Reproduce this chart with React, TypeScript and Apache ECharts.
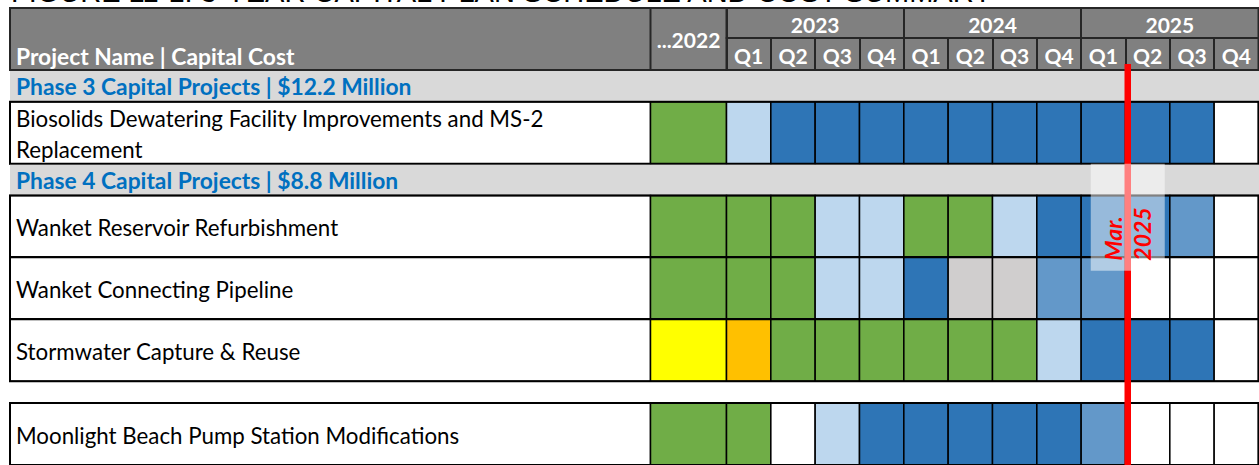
import { useEffect, useRef } from 'react';
import * as echarts from 'echarts';

// ---------------- data ----------------
const TITLE = 'FIGURE 11-1: 3-YEAR CAPITAL PLAN SCHEDULE AND COST SUMMARY';
const NAME_HEADER = 'Project Name | Capital Cost';
const PRIOR_LABEL = '...2022';
const YEARS = ['2023', '2024', '2025'];
const QUARTERS = ['Q1', 'Q2', 'Q3', 'Q4'];
const PERIODS = YEARS.flatMap((y) => QUARTERS.map((q) => `${y} ${q}`));

const PHASE_LABELS = [
  'Phase 3 Capital Projects | $12.2 Million',
  'Phase 4 Capital Projects | $8.8 Million',
];
const PROJECT_NAMES = [
  'Biosolids Dewatering Facility Improvements and MS-2 Replacement',
  'Wanket Reservoir Refurbishment',
  'Wanket Connecting Pipeline',
  'Stormwater Capture & Reuse',
  'Moonlight Beach Pump Station Modifications',
];
// status per column: first = "...2022", then 2023 Q1 ... 2025 Q4
// G green, L light blue, D dark blue, M medium blue, H grey, Y yellow, O orange, '' empty
const BIOSOLIDS = ['G', 'L', 'D', 'D', 'D', 'D', 'D', 'D', 'D', 'D', 'D', 'D', ''];
const RESERVOIR = ['G', 'G', 'G', 'L', 'L', 'G', 'G', 'L', 'D', 'D', 'D', 'M', ''];
const PIPELINE = ['G', 'G', 'G', 'L', 'L', 'D', 'H', 'H', 'M', 'M', '', '', ''];
const STORMWATER = ['Y', 'O', 'G', 'G', 'G', 'G', 'G', 'G', 'L', 'D', 'D', 'D', ''];
const MOONLIGHT = ['G', 'G', '', 'L', 'D', 'D', 'D', 'D', 'D', 'M', '', '', ''];

const MARKER_LABEL = 'Mar.\n2025';
const MARKER_PERIOD = '2025 Q1';
const MARKER_FRACTION = 1; // end of March

// ---------------- structure / style ----------------
type Row = { kind: 'phase' | 'project' | 'gap'; label?: string; cells?: string[] };
const ROWS: Row[] = [
  { kind: 'phase', label: PHASE_LABELS[0] },
  { kind: 'project', label: PROJECT_NAMES[0], cells: BIOSOLIDS },
  { kind: 'phase', label: PHASE_LABELS[1] },
  { kind: 'project', label: PROJECT_NAMES[1], cells: RESERVOIR },
  { kind: 'project', label: PROJECT_NAMES[2], cells: PIPELINE },
  { kind: 'project', label: PROJECT_NAMES[3], cells: STORMWATER },
  { kind: 'gap' },
  { kind: 'project', label: PROJECT_NAMES[4], cells: MOONLIGHT },
];

const ROW_HEIGHT: Record<string, number> = { phase: 32, project: 62.5, gap: 22 };
const ROW_STARTS: number[] = [];
let acc = 0;
ROWS.forEach((r) => {
  ROW_STARTS.push(acc);
  acc += ROW_HEIGHT[r.kind];
});
const TOTAL_HEIGHT = acc;

const STATUS_COLOR: Record<string, string> = {
  G: '#70AD47',
  L: '#BDD7EE',
  D: '#2E75B6',
  M: '#6398C9',
  H: '#D0CECE',
  Y: '#FFFF00',
  O: '#FFC000',
  '': '#FFFFFF',
};

const FONT = 'Lato';
const TEXT_SIZE = 22.3;
const BOLD_SIZE = 22.8;
const HEAD_SIZE = 21;
const TABLE_LEFT = 10;
const PRE_WIDTH = 76;
const HEADER_TOP = 8;
const GRID_TOP = 70;
const GRID_LEFT = 726.5;
const HEADER_FILL = '#808080';
const HEADER_LINE = '#262626';
const PHASE_FILL = '#D9D9D9';
const PHASE_TEXT = '#0070C0';
const MARKER_COLOR = '#FF0000';

function gridInfo(api: any) {
  const band = api.size([1, 0])[0];
  const left = api.coord([0, 0])[0] - band / 2;
  const right = left + band * PERIODS.length;
  const top = api.coord([0, 0])[1];
  const bottom = api.coord([0, TOTAL_HEIGHT])[1];
  return { band, left, right, top, bottom };
}

function renderHeader(_params: any, api: any) {
  const g = gridInfo(api);
  const preLeft = g.left - PRE_WIDTH;
  const lineStyle = { stroke: HEADER_LINE, lineWidth: 2 };
  return {
    type: 'group',
    children: [
      {
        type: 'rect',
        shape: { x: TABLE_LEFT, y: HEADER_TOP, width: g.right - TABLE_LEFT, height: g.top - HEADER_TOP },
        style: { fill: HEADER_FILL, ...lineStyle },
      },
      { type: 'line', shape: { x1: preLeft, y1: HEADER_TOP, x2: preLeft, y2: g.top }, style: lineStyle },
      { type: 'line', shape: { x1: g.left, y1: HEADER_TOP, x2: g.left, y2: g.top }, style: lineStyle },
      {
        type: 'text',
        x: TABLE_LEFT + 6,
        y: g.top - 14.5,
        style: {
          text: NAME_HEADER,
          fill: '#FFFFFF',
          font: `bold ${BOLD_SIZE}px ${FONT}`,
          align: 'left',
          verticalAlign: 'middle',
        },
      },
      {
        type: 'text',
        x: preLeft + PRE_WIDTH / 2,
        y: (HEADER_TOP + g.top) / 2,
        style: {
          text: PRIOR_LABEL,
          fill: '#FFFFFF',
          font: `bold ${HEAD_SIZE}px ${FONT}`,
          align: 'center',
          verticalAlign: 'middle',
        },
      },
    ],
  };
}

function renderRow(params: any, api: any) {
  const i = params.dataIndex;
  const row = ROWS[i];
  const g = gridInfo(api);
  const y0 = api.coord([0, ROW_STARTS[i]])[1];
  const y1 = api.coord([0, ROW_STARTS[i] + ROW_HEIGHT[row.kind]])[1];
  const h = y1 - y0;
  const children: any[] = [];
  if (row.kind === 'phase') {
    children.push({
      type: 'rect',
      shape: { x: TABLE_LEFT, y: y0 + 1, width: g.right - TABLE_LEFT + 2, height: h - 2 },
      style: { fill: PHASE_FILL },
    });
    children.push({
      type: 'text',
      x: TABLE_LEFT + 6,
      y: (y0 + y1) / 2,
      style: {
        text: row.label,
        fill: PHASE_TEXT,
        font: `bold ${BOLD_SIZE}px ${FONT}`,
        align: 'left',
        verticalAlign: 'middle',
      },
    });
  } else if (row.kind === 'project') {
    const preLeft = g.left - PRE_WIDTH;
    const cellStyle = { stroke: '#000000', lineWidth: 1.5 };
    children.push({
      type: 'rect',
      shape: { x: TABLE_LEFT, y: y0, width: preLeft - TABLE_LEFT, height: h },
      style: { fill: '#FFFFFF', ...cellStyle },
    });
    children.push({
      type: 'text',
      x: TABLE_LEFT + 6,
      y: (y0 + y1) / 2 + 1.5,
      style: {
        text: row.label,
        fill: '#000000',
        font: `${TEXT_SIZE}px ${FONT}`,
        align: 'left',
        verticalAlign: 'middle',
        width: 580,
        overflow: 'break',
        lineHeight: 31,
      },
    });
    (row.cells || []).forEach((status, k) => {
      let x0: number;
      let w: number;
      if (k === 0) {
        x0 = preLeft;
        w = PRE_WIDTH;
      } else {
        x0 = api.coord([k - 1, 0])[0] - g.band / 2;
        w = g.band;
      }
      children.push({
        type: 'rect',
        shape: { x: x0, y: y0, width: w, height: h },
        style: { fill: STATUS_COLOR[status], ...cellStyle },
      });
    });
    children.push({
      type: 'rect',
      shape: { x: TABLE_LEFT, y: y0, width: g.right - TABLE_LEFT, height: h },
      style: { fill: 'none', stroke: '#000000', lineWidth: 2 },
    });
  }
  return { type: 'group', children };
}

function renderMarker(_params: any, api: any) {
  const g = gridInfo(api);
  const qi = PERIODS.indexOf(MARKER_PERIOD);
  const x = api.coord([qi, 0])[0] - g.band / 2 + MARKER_FRACTION * g.band;
  const lineW = 6.5;
  const cx = x - 1 + lineW / 2;
  const phase4Top = api.coord([0, ROW_STARTS[2]])[1];
  const boxH = 107;
  return {
    type: 'group',
    children: [
      {
        type: 'rect',
        shape: { x: x - 1, y: g.top - 6, width: lineW, height: g.bottom - g.top + 6 },
        style: { fill: MARKER_COLOR },
      },
      {
        type: 'rect',
        shape: { x: cx - 37, y: phase4Top, width: 74, height: boxH },
        style: { fill: 'rgba(255,255,255,0.5)' },
      },
      {
        type: 'text',
        x: cx,
        y: phase4Top + boxH - 10,
        rotation: Math.PI / 2,
        style: {
          text: MARKER_LABEL,
          fill: MARKER_COLOR,
          font: `italic bold 23px ${FONT}`,
          lineHeight: 29,
          align: 'left',
          verticalAlign: 'middle',
        },
      },
    ],
  };
}

function buildOption(): any {
  const labelBase = {
    color: '#FFFFFF',
    fontWeight: 'bold',
    fontSize: HEAD_SIZE,
    fontFamily: FONT,
    verticalAlign: 'middle',
    interval: 0,
  };
  return {
    animation: false,
    title: {
      text: TITLE,
      left: 11,
      top: -22.5,
      padding: 0,
      textStyle: {
        fontFamily: 'Liberation Sans',
        fontWeight: 'normal',
        fontSize: 29,
        lineHeight: 29,
        color: '#000000',
      },
    },
    grid: { left: GRID_LEFT, right: 0.5, top: GRID_TOP, height: TOTAL_HEIGHT },
    xAxis: [
      {
        type: 'category',
        data: PERIODS,
        position: 'top',
        z: 4,
        axisLine: { lineStyle: { color: HEADER_LINE, width: 2 } },
        axisTick: { show: true, interval: 0, length: 32, lineStyle: { color: HEADER_LINE, width: 2 } },
        axisLabel: { ...labelBase, margin: 15, formatter: (v: string) => v.split(' ')[1] },
        splitLine: { show: false },
      },
      {
        type: 'category',
        data: YEARS,
        position: 'top',
        offset: 32,
        z: 4,
        axisLine: { lineStyle: { color: HEADER_LINE, width: 2 } },
        axisTick: { show: true, interval: 0, length: 30, lineStyle: { color: HEADER_LINE, width: 2 } },
        axisLabel: { ...labelBase, margin: 14 },
        splitLine: { show: false },
      },
    ],
    yAxis: { type: 'value', inverse: true, min: 0, max: TOTAL_HEIGHT, show: false },
    series: [
      {
        type: 'custom',
        name: 'header',
        z: 3,
        xAxisIndex: 0,
        renderItem: renderHeader,
        data: [[0, 0]],
      },
      {
        type: 'custom',
        name: 'rows',
        z: 2,
        xAxisIndex: 0,
        renderItem: renderRow,
        data: ROWS.map((_, i) => [0, ROW_STARTS[i]]),
      },
      {
        type: 'custom',
        name: 'marker',
        z: 6,
        xAxisIndex: 0,
        renderItem: renderMarker,
        data: [[PERIODS.indexOf(MARKER_PERIOD), 0]],
      },
    ],
  };
}

export default function App() {
  const ref = useRef<HTMLDivElement>(null);
  useEffect(() => {
    document.body.style.margin = '0';
    const chart = echarts.init(ref.current!, undefined, { renderer: 'svg' });
    chart.setOption(buildOption());
    return () => chart.dispose();
  }, []);
  return <div ref={ref} style={{ width: 1259, height: 465 }} />;
}
